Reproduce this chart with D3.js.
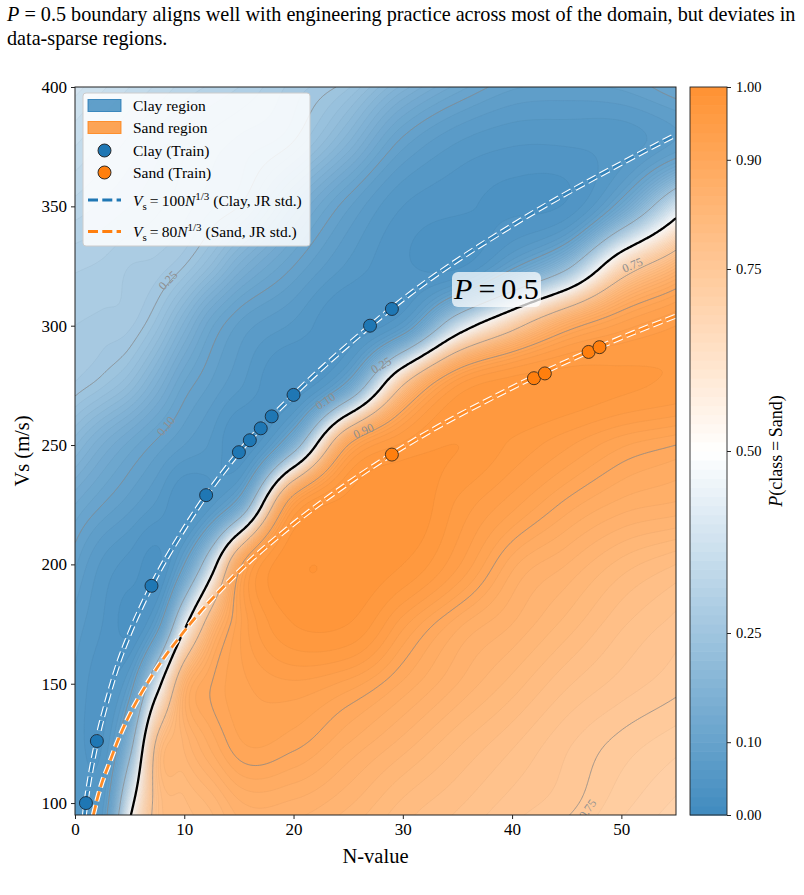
<!DOCTYPE html>
<html>
<head>
<meta charset="utf-8">
<script src="https://cdn.jsdelivr.net/npm/d3@7"></script>
<style>
  body { margin: 0; background: #fff; }
  svg { display: block; font-family: "Liberation Serif", "Times New Roman", serif; }
</style>
</head>
<body>
<svg id="chart" width="804" height="895"></svg>
<script>
// P(class = Sand) on a coarse grid (rows = Vs, columns = N)
const gridN = [0, 2.5, 5, 7.5, 10, 12.5, 15, 20, 25, 30, 35, 40, 45, 50, 55];
const gridVs = [400, 375, 350, 325, 300, 275, 250, 225, 200, 175, 150, 125, 100, 75];
const gridP = [
  [0.38, 0.365, 0.35, 0.335, 0.32, 0.31, 0.30, 0.27, 0.24, 0.17, 0.12, 0.09, 0.085, 0.09, 0.11],
  [0.35, 0.335, 0.32, 0.305, 0.29, 0.28, 0.27, 0.245, 0.17, 0.09, 0.06, 0.05, 0.05, 0.055, 0.08],
  [0.32, 0.31, 0.30, 0.29, 0.28, 0.265, 0.25, 0.16, 0.09, 0.05, 0.04, 0.035, 0.04, 0.12, 0.40],
  [0.29, 0.285, 0.275, 0.27, 0.25, 0.21, 0.16, 0.10, 0.06, 0.04, 0.035, 0.09, 0.22, 0.65, 0.83],
  [0.275, 0.27, 0.265, 0.23, 0.17, 0.115, 0.085, 0.06, 0.04, 0.07, 0.38, 0.70, 0.88, 0.93, 0.95],
  [0.26, 0.24, 0.21, 0.16, 0.11, 0.085, 0.065, 0.04, 0.12, 0.75, 0.95, 0.97, 0.97, 0.965, 0.96],
  [0.19, 0.15, 0.12, 0.095, 0.075, 0.06, 0.04, 0.18, 0.90, 0.965, 0.975, 0.96, 0.94, 0.915, 0.90],
  [0.125, 0.10, 0.08, 0.06, 0.04, 0.06, 0.13, 0.94, 0.98, 0.985, 0.96, 0.93, 0.895, 0.87, 0.86],
  [0.09, 0.06, 0.045, 0.035, 0.10, 0.40, 0.88, 0.985, 0.985, 0.975, 0.94, 0.88, 0.85, 0.82, 0.80],
  [0.07, 0.05, 0.035, 0.08, 0.45, 0.82, 0.92, 0.975, 0.975, 0.93, 0.88, 0.85, 0.82, 0.79, 0.77],
  [0.06, 0.045, 0.08, 0.42, 0.84, 0.90, 0.92, 0.935, 0.92, 0.885, 0.85, 0.82, 0.79, 0.77, 0.755],
  [0.055, 0.05, 0.20, 0.77, 0.84, 0.88, 0.91, 0.905, 0.875, 0.845, 0.815, 0.79, 0.765, 0.745, 0.73],
  [0.06, 0.07, 0.43, 0.78, 0.81, 0.83, 0.86, 0.86, 0.84, 0.81, 0.79, 0.77, 0.755, 0.73, 0.71],
  [0.07, 0.10, 0.65, 0.78, 0.80, 0.81, 0.83, 0.83, 0.81, 0.79, 0.77, 0.75, 0.73, 0.71, 0.69]
];

// training points
const clayN = [1, 2, 7, 12, 15, 16, 17, 18, 20, 27, 29];
const clayVs = [100, 126, 191, 229, 247, 252, 257, 262, 271, 300, 307];
const sandN = [29, 42, 43, 47, 48];
const sandVs = [246, 278, 280, 289, 291];

// JR standard curves
const jrClayN = [0.86, 1, 1.5, 2, 3, 4, 5, 7, 10, 15, 20, 25, 30, 40, 50, 55];
const jrClayVs = [95, 100, 114.5, 126, 144, 159, 171, 191, 215, 247, 271, 292, 311, 342, 368, 380];
const jrSandN = [1.68, 2, 2.5, 3, 4, 5, 7, 10, 15, 20, 25, 30, 40, 50, 55];
const jrSandVs = [95, 101, 109, 115, 127, 137, 153, 172, 197, 217, 234, 249, 274, 295, 304];

const xTicks = [0, 10, 20, 30, 40, 50];
const yTicks = [100, 150, 200, 250, 300, 350, 400];
const cbTicks = [0, 0.10, 0.25, 0.50, 0.75, 0.90, 1.00];
const labelLevels = [0.10, 0.25, 0.75, 0.90];
// inline contour labels: text, N, Vs, rotation
const contourLabelText = ["0.25", "0.10", "0.10", "0.25", "0.90", "0.75", "0.75"];
const contourLabelN = [8.5, 8.3, 22.9, 28.0, 26.4, 51.0, 46.9];
const contourLabelVs = [319, 258, 268.5, 283.5, 256, 325.5, 97.5];
const contourLabelAngle = [-46, -50, -33, -30, -24, -22, -55];

const dims = {
  left: 75, right: 676, top: 87, bottom: 815,
  cbLeft: 690, cbRight: 727
};

const svg = d3.select("#chart");

const x = d3.scaleLinear().domain([0, 55]).range([dims.left, dims.right]);
const y = d3.scaleLinear().domain([95, 400]).range([dims.bottom, dims.top]);

// colormap: blue -> white -> orange, drawn at alpha 0.85 over white
const blueEnd = "rgb(64,139,191)", orangeEnd = "rgb(255,146,50)";
const cmap = p => p < 0.5
  ? d3.interpolateRgb(blueEnd, "#ffffff")(p / 0.5)
  : d3.interpolateRgb("#ffffff", orangeEnd)((p - 0.5) / 0.5);

// ---- build a fine field from the coarse grid (cubic Hermite in logit space)
const logit = p => Math.log(p / (1 - p));
const expit = l => 1 / (1 + Math.exp(-l));

function hermite(xs, ys) {
  const n = xs.length, h = [], d = [], m = new Array(n);
  for (let k = 0; k < n - 1; k++) {
    h.push(xs[k + 1] - xs[k]);
    d.push((ys[k + 1] - ys[k]) / h[k]);
  }
  m[0] = d[0];
  m[n - 1] = d[n - 2];
  for (let k = 1; k < n - 1; k++) {
    m[k] = (h[k] * d[k - 1] + h[k - 1] * d[k]) / (h[k - 1] + h[k]);
  }
  return v => {
    if (v <= xs[0]) return ys[0];
    if (v >= xs[n - 1]) return ys[n - 1];
    const k = Math.min(n - 2, d3.bisectRight(xs, v) - 1);
    const t = (v - xs[k]) / h[k], t2 = t * t, t3 = t2 * t;
    return (2 * t3 - 3 * t2 + 1) * ys[k] + (t3 - 2 * t2 + t) * h[k] * m[k]
      + (-2 * t3 + 3 * t2) * ys[k + 1] + (t3 - t2) * h[k] * m[k + 1];
  };
}

const dn = 0.2, dv = 0.5, n0 = -0.5, v0 = 400.5;
const nx = 281, ny = 613;
const rowFns = gridP.map(row => hermite(gridN, row.map(logit)));
const vsAsc = gridVs.slice().reverse();
const values = new Float64Array(nx * ny);
for (let i = 0; i < nx; i++) {
  const n = n0 + dn * i;
  const col = rowFns.map(f => f(n)).reverse();
  const f = hermite(vsAsc, col);
  for (let j = 0; j < ny; j++) values[j * nx + i] = expit(f(v0 - dv * j));
}

const proj = d3.geoTransform({
  point(cx, cy) {
    this.stream.point(x(n0 + dn * (cx - 0.5)), y(v0 - dv * (cy - 0.5)));
  }
});
const geo = d3.geoPath(proj);

svg.append("defs").append("clipPath").attr("id", "plotClip")
  .append("rect")
  .attr("x", dims.left).attr("y", dims.top)
  .attr("width", dims.right - dims.left).attr("height", dims.bottom - dims.top);

const plot = svg.append("g").attr("clip-path", "url(#plotClip)");

// filled bands
const step = 1 / 80;
const levels = d3.range(0, 80).map(k => k * step);
const bands = d3.contours().size([nx, ny]).thresholds(levels)(values);
plot.append("g").selectAll("path")
  .data(bands)
  .join("path")
  .attr("d", geo)
  .attr("fill", d => cmap(d.value + step / 2))
  .attr("stroke", "none");

// faint level lines
plot.append("g").selectAll("path")
  .data(bands.slice(1))
  .join("path")
  .attr("d", geo)
  .attr("fill", "none")
  .attr("stroke", d => d3.color(cmap(d.value)).darker(0.5))
  .attr("stroke-opacity", 0.4)
  .attr("stroke-width", 0.5);

// labelled grey contours
const contourGen = d3.contours().size([nx, ny]);
plot.append("g").selectAll("path")
  .data(labelLevels.map(l => contourGen.contour(values, l)))
  .join("path")
  .attr("d", geo)
  .attr("fill", "none")
  .attr("stroke", "#8a8a8a")
  .attr("stroke-opacity", 0.75)
  .attr("stroke-width", 1);

plot.append("g").selectAll("text")
  .data(contourLabelText)
  .join("text")
  .attr("transform", (d, i) => `translate(${x(contourLabelN[i])},${y(contourLabelVs[i])}) rotate(${contourLabelAngle[i]})`)
  .attr("text-anchor", "middle")
  .attr("dy", "0.35em")
  .attr("font-size", "12px")
  .attr("fill", "#8f8f8f")
  .text(d => d);

// P = 0.5 decision boundary
plot.append("path")
  .datum(contourGen.contour(values, 0.5))
  .attr("d", geo)
  .attr("fill", "none")
  .attr("stroke", "#000")
  .attr("stroke-width", 2.3);

// JR standard lines (white halo + coloured dashes)
const jrLine = d3.line().x(d => x(d[0])).y(d => y(d[1])).curve(d3.curveMonotoneX);
const jrSets = [
  { pts: d3.zip(jrClayN, jrClayVs), color: "#1f77b4" },
  { pts: d3.zip(jrSandN, jrSandVs), color: "#ff7f0e" }
];
jrSets.forEach(s => {
  plot.append("path").datum(s.pts).attr("d", jrLine)
    .attr("fill", "none").attr("stroke", "#fff").attr("stroke-width", 5)
    .attr("stroke-dasharray", "10,4.3");
  plot.append("path").datum(s.pts).attr("d", jrLine)
    .attr("fill", "none").attr("stroke", s.color).attr("stroke-width", 2.8)
    .attr("stroke-opacity", 0.9)
    .attr("stroke-dasharray", "10,4.3");
});

// training points
plot.append("g").selectAll("circle")
  .data(d3.zip(clayN, clayVs))
  .join("circle")
  .attr("cx", d => x(d[0])).attr("cy", d => y(d[1])).attr("r", 6.5)
  .attr("fill", "#1f77b4").attr("stroke", "#1a2a3a").attr("stroke-width", 0.9);
plot.append("g").selectAll("circle")
  .data(d3.zip(sandN, sandVs))
  .join("circle")
  .attr("cx", d => x(d[0])).attr("cy", d => y(d[1])).attr("r", 6.5)
  .attr("fill", "#ff7f0e").attr("stroke", "#3a2a1a").attr("stroke-width", 0.9);

// P=0.5 annotation
svg.append("rect")
  .attr("x", 452).attr("y", 272).attr("width", 89).attr("height", 35)
  .attr("rx", 6).attr("fill", "#fff").attr("fill-opacity", 0.72);
const pLab = svg.append("text").attr("x", 496.5).attr("y", 299)
  .attr("text-anchor", "middle").attr("font-size", "30px");
pLab.append("tspan").attr("font-style", "italic").text("P");
pLab.append("tspan").text("\u2009=\u20090.5");

// axes frame
svg.append("rect")
  .attr("x", dims.left).attr("y", dims.top)
  .attr("width", dims.right - dims.left).attr("height", dims.bottom - dims.top)
  .attr("fill", "none").attr("stroke", "#222").attr("stroke-width", 1);

const xAxis = g => g
  .attr("transform", `translate(0,${dims.bottom})`)
  .call(d3.axisBottom(x).tickValues(xTicks).tickSize(4).tickPadding(4).tickFormat(d3.format("d")))
  .call(g => g.select(".domain").remove());
const yAxis = g => g
  .attr("transform", `translate(${dims.left},0)`)
  .call(d3.axisLeft(y).tickValues(yTicks).tickSize(4).tickPadding(4).tickFormat(d3.format("d")))
  .call(g => g.select(".domain").remove());

svg.append("g").call(xAxis)
  .call(g => g.selectAll("text").attr("font-family", "Liberation Serif").attr("font-size", "17px").attr("fill", "#000"))
  .call(g => g.selectAll("line").attr("stroke", "#222"));
svg.append("g").call(yAxis)
  .call(g => g.selectAll("text").attr("font-family", "Liberation Serif").attr("font-size", "17px").attr("fill", "#000"))
  .call(g => g.selectAll("line").attr("stroke", "#222"));

svg.append("text")
  .attr("x", (dims.left + dims.right) / 2).attr("y", 863)
  .attr("text-anchor", "middle").attr("font-size", "20.5px")
  .text("N-value");
svg.append("text")
  .attr("transform", `translate(29,${(dims.top + dims.bottom) / 2}) rotate(-90)`)
  .attr("text-anchor", "middle").attr("font-size", "20.5px")
  .text("Vs (m/s)");

// colorbar
const cy = d3.scaleLinear().domain([0, 1]).range([dims.bottom, dims.top]);
svg.append("g").selectAll("rect")
  .data(levels)
  .join("rect")
  .attr("x", dims.cbLeft)
  .attr("y", d => cy(d + step))
  .attr("width", dims.cbRight - dims.cbLeft)
  .attr("height", d => cy(d) - cy(d + step) + 0.6)
  .attr("fill", d => cmap(d + step / 2));
svg.append("rect")
  .attr("x", dims.cbLeft).attr("y", dims.top)
  .attr("width", dims.cbRight - dims.cbLeft).attr("height", dims.bottom - dims.top)
  .attr("fill", "none").attr("stroke", "#222").attr("stroke-width", 0.9);
svg.append("g")
  .attr("transform", `translate(${dims.cbRight},0)`)
  .call(d3.axisRight(cy).tickValues(cbTicks).tickSize(4).tickPadding(5).tickFormat(d3.format(".2f")))
  .call(g => g.select(".domain").remove())
  .call(g => g.selectAll("text").attr("font-family", "Liberation Serif").attr("font-size", "14.5px").attr("fill", "#000"))
  .call(g => g.selectAll("line").attr("stroke", "#222"));

const cbLab = svg.append("text")
  .attr("transform", `translate(782,${(dims.top + dims.bottom) / 2}) rotate(-90)`)
  .attr("text-anchor", "middle").attr("font-size", "18px");
cbLab.append("tspan").attr("font-style", "italic").text("P");
cbLab.append("tspan").text("(class\u2009=\u2009Sand)");

// legend
const legend = svg.append("g");
legend.append("rect")
  .attr("x", 83).attr("y", 93).attr("width", 227).attr("height", 153)
  .attr("rx", 3).attr("fill", "#fff").attr("fill-opacity", 0.85)
  .attr("stroke", "#cccccc").attr("stroke-width", 1);

const legX = 88, legW = 33, legTx = 133;
const legItems = [
  { kind: "patch", color: "#1f77b4", y: 105.5, text: "Clay region" },
  { kind: "patch", color: "#ff7f0e", y: 127.5, text: "Sand region" },
  { kind: "dot", color: "#1f77b4", y: 150.5, text: "Clay (Train)" },
  { kind: "dot", color: "#ff7f0e", y: 172.5, text: "Sand (Train)" },
  { kind: "dash", color: "#1f77b4", y: 200, coef: "100", tail: " (Clay, JR std.)" },
  { kind: "dash", color: "#ff7f0e", y: 231.5, coef: "80", tail: " (Sand, JR std.)" }
];
legItems.forEach(it => {
  if (it.kind === "patch") {
    legend.append("rect").attr("x", legX).attr("y", it.y - 6).attr("width", legW).attr("height", 12)
      .attr("fill", it.color).attr("fill-opacity", 0.7).attr("stroke", it.color).attr("stroke-opacity", 0.8);
  } else if (it.kind === "dot") {
    legend.append("circle").attr("cx", legX + legW / 2).attr("cy", it.y).attr("r", 6.5)
      .attr("fill", it.color).attr("stroke", "#1a1a1a").attr("stroke-width", 0.9);
  } else {
    legend.append("line").attr("x1", legX).attr("x2", legX + legW).attr("y1", it.y).attr("y2", it.y)
      .attr("stroke", it.color).attr("stroke-width", 2.8).attr("stroke-dasharray", "10,4.3");
  }
  const t = legend.append("text").attr("x", legTx).attr("y", it.y + 5.5).attr("font-size", "15.5px");
  if (it.kind !== "dash") {
    t.text(it.text);
  } else {
    t.append("tspan").attr("font-style", "italic").text("V");
    t.append("tspan").attr("font-size", "11px").attr("dy", 4).text("s");
    t.append("tspan").attr("dy", -4).text("\u2009=\u2009" + it.coef);
    t.append("tspan").attr("font-style", "italic").text("N");
    t.append("tspan").attr("font-size", "11px").attr("dy", -6).text("1/3");
    t.append("tspan").attr("dy", 6).text(it.tail);
  }
});

// caption text above the figure
const cap1 = svg.append("text").attr("x", 7).attr("y", 21).attr("font-size", "20.2px");
cap1.append("tspan").attr("font-style", "italic").text("P");
cap1.append("tspan").text(" = 0.5 boundary aligns well with engineering practice across most of the domain, but deviates in");
svg.append("text").attr("x", 7).attr("y", 45).attr("font-size", "20.2px")
  .text("data-sparse regions.");
</script>
</body>
</html>
